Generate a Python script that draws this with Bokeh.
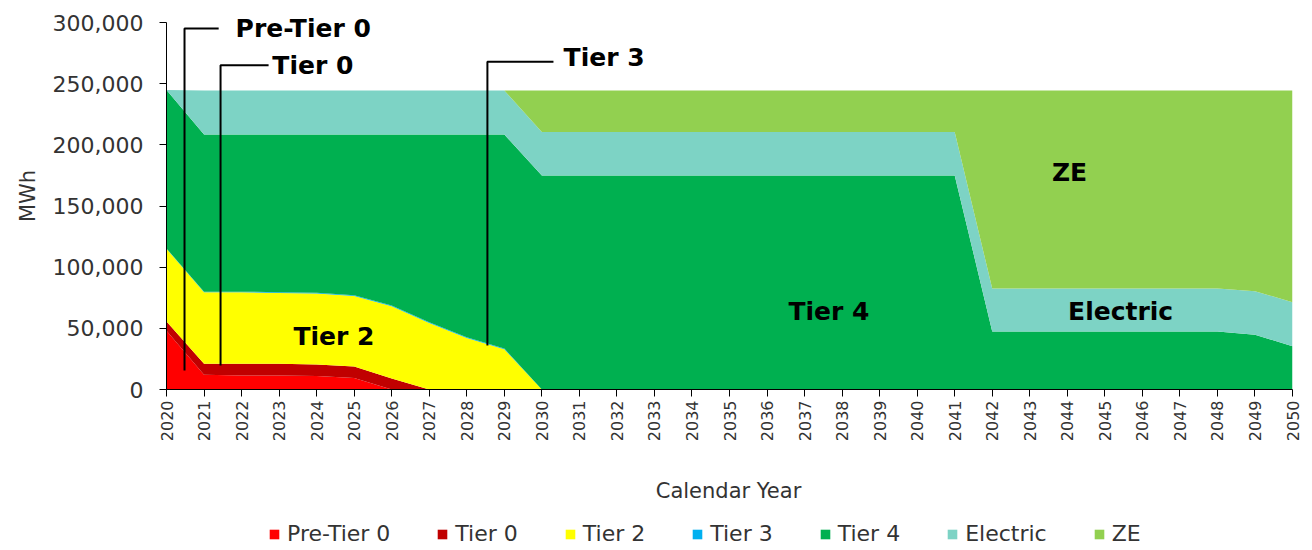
from math import pi
from bokeh.plotting import figure
from bokeh.layouts import column
from bokeh.models import ColumnDataSource, FixedTicker, NumeralTickFormatter, Label
from bokeh.embed import file_html
from bokeh.resources import INLINE

# ---- data (MWh) ----
years = list(range(2020, 2051))
pre_tier0 = [48000, 12000, 11500, 11500, 11000, 9300] + [0] * 25
tier0 = [7500, 9000, 9500, 9500, 9500, 9500, 9000] + [0] * 24
tier2 = [59500, 58400, 58400, 57900, 57900, 57600, 59100, 54400, 42200, 32900] + [0] * 21
tier3 = [300] + [600] * 9 + [0] * 21
tier4 = ([129500, 128500, 128500, 129000, 129500, 131500, 139800, 153500, 165700, 175000]
         + [175000] * 12 + [47500] * 7 + [44700, 35400])
electric = [0] + [36000] * 9 + [35500] * 12 + [35000] * 7 + [35700, 36000]
ze = [0] * 10 + [34000] * 12 + [162000] * 7 + [164100, 173100]

series_names = ["Pre-Tier 0", "Tier 0", "Tier 2", "Tier 3", "Tier 4", "Electric", "ZE"]
series_colors = ["#FF0000", "#C00000", "#FFFF00", "#00B0F0", "#00B050", "#7DD3C5", "#92D050"]
y_ticks = [0, 50000, 100000, 150000, 200000, 250000, 300000]
Y_MAX = 300000
x_title = "Calendar Year"
y_title = "MWh"

FONT = "DejaVu Sans"

source = ColumnDataSource(dict(
    year=years, **{"Pre-Tier 0": pre_tier0, "Tier 0": tier0, "Tier 2": tier2,
                   "Tier 3": tier3, "Tier 4": tier4, "Electric": electric, "ZE": ze}))

# ---------------- main chart ----------------
# frame extends a little above the 300,000 line so the callout texts are not clipped;
# the axis line itself is bounded to 0..300,000
AXIS_PX = 367
FRAME_PX = 387
BOTTOM_PX = 70
LEFT_PX = 166
p = figure(frame_width=1126, frame_height=FRAME_PX, x_range=(2020, 2050),
           y_range=(0, Y_MAX * FRAME_PX / AXIS_PX),
           output_backend="svg", toolbar_location=None,
           min_border_left=LEFT_PX, min_border_right=10, min_border_top=2,
           min_border_bottom=BOTTOM_PX)
p.outline_line_color = None
p.xgrid.visible = False
p.ygrid.visible = False
p.background_fill_color = "white"

p.varea_stack(stackers=series_names, x="year", color=series_colors, source=source)

p.xaxis.ticker = FixedTicker(ticks=years)
p.xaxis.major_label_orientation = pi / 2
p.yaxis.ticker = FixedTicker(ticks=y_ticks)
p.yaxis.bounds = (0, Y_MAX)
p.yaxis.formatter = NumeralTickFormatter(format="0,0")
p.yaxis.axis_label = y_title
for ax in (p.xaxis[0], p.yaxis[0]):
    ax.axis_line_color = "black"
    ax.major_tick_line_color = "black"
    ax.major_tick_out = 7
    ax.major_tick_in = 0
    ax.minor_tick_line_color = None
    ax.major_label_text_font = FONT
    ax.major_label_text_color = "#333333"
    ax.axis_label_text_font = FONT
    ax.axis_label_text_font_style = "normal"
    ax.axis_label_text_color = "#333333"
p.xaxis.major_label_text_font_size = "16px"
p.yaxis.major_label_text_font_size = "22px"
p.yaxis.axis_label_text_font_size = "21px"
p.xaxis.major_label_standoff = 4
p.yaxis.axis_label_standoff = 10
p.yaxis.major_label_standoff = 16

# callout leader lines (data coordinates)
callouts = [
    ([2020.48, 2020.48, 2021.39], [15500, 295000, 295000]),
    ([2021.44, 2021.44, 2022.72], [19600, 265000, 265000]),
    ([2028.55, 2028.55, 2030.31], [36000, 268000, 268000]),
]
for xs, ys in callouts:
    p.line(xs, ys, line_color="black", line_width=2)

labels = [
    (2021.84, 295000, "Pre-Tier 0", "left"),
    (2022.82, 264500, "Tier 0", "left"),
    (2030.58, 271500, "Tier 3", "left"),
    (2024.46, 43300, "Tier 2", "center"),
    (2037.65, 63800, "Tier 4", "center"),
    (2044.06, 177400, "ZE", "center"),
    (2045.42, 63800, "Electric", "center"),
]
for x, y, t, al in labels:
    p.add_layout(Label(x=x, y=y, text=t, text_align=al, text_baseline="middle",
                       text_font=FONT, text_font_size="25px", text_font_style="bold",
                       text_color="black"))

# ---------------- strip below: x-axis title and legend ----------------
# (the column layout aligns this strip's frame with the chart frame, x offset LEFT_PX)
STRIP_H = 550 - (2 + FRAME_PX + BOTTOM_PX)
q = figure(width=1302, height=STRIP_H, x_range=(2020, 2050), y_range=(-2e6, -1e6),
           x_axis_location=None, y_axis_location=None,
           output_backend="svg", toolbar_location=None, min_border=0)
q.outline_line_color = None
q.grid.visible = False
# same stacked series; they sit outside this strip's range and only feed the legend swatches
q.varea_stack(stackers=series_names, x="year", color=series_colors, source=source,
              legend_label=series_names)

q.add_layout(Label(x=728 - LEFT_PX, y=STRIP_H - 31, x_units="screen", y_units="screen",
                   text=x_title, text_align="center", text_baseline="middle",
                   text_font=FONT, text_font_size="21px", text_color="#333333"))

leg = q.legend[0]
leg.orientation = "horizontal"
leg.location = (268 - LEFT_PX, 4)
leg.border_line_color = None
leg.background_fill_alpha = 0
leg.label_text_font = FONT
leg.label_text_font_size = "22px"
leg.label_text_color = "#333333"
leg.glyph_width = 12
leg.glyph_height = 12
leg.spacing = 46
leg.label_standoff = 7
leg.padding = 0
leg.margin = 0

layout = column(p, q, spacing=0)
open("out.html", "w").write(file_html(layout, INLINE))
